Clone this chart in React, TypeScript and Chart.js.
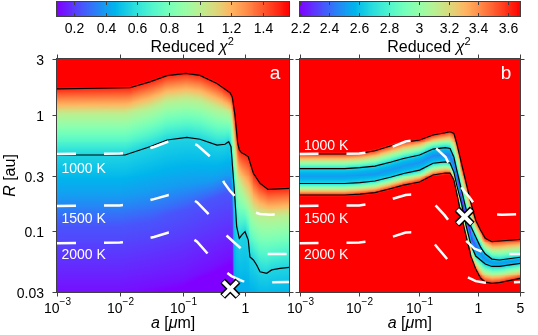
import React, { useEffect, useRef } from 'react';
import { Chart, registerables } from 'chart.js';

Chart.register(...registerables);

const W = 538;
const H = 335;
const FONT = '"Liberation Sans", Arial, Helvetica, sans-serif';
const L10 = Math.log10;

// ---------------- axes ----------------
const A_RANGE = [0.001, 5];
const R_RANGE = [0.03, 3];
const X_TICKS = [0.001, 0.01, 0.1, 1, 5];
const X_LABEL_BASE_A = ['10', '10', '10', '1', ''];
const X_LABEL_BASE_B = ['10', '10', '10', '1', '5'];
const X_LABEL_EXP = ['\u22123', '\u22122', '\u22121', '', ''];
const Y_TICKS = [3, 1, 0.3, 0.1, 0.03];
const Y_LABELS = ['3', '1', '0.3', '0.1', '0.03'];

// ---------------- colour bars ----------------
const CB_A_RANGE = [0.091, 1.568];
const CB_A_TICKS = [0.2, 0.4, 0.6, 0.8, 1, 1.2, 1.4];
const CB_A_LABELS = ['0.2', '0.4', '0.6', '0.8', '1', '1.2', '1.4'];
const CB_B_RANGE = [2.2, 3.68];
const CB_B_TICKS = [2.2, 2.4, 2.6, 2.8, 3, 3.2, 3.4, 3.6];
const CB_B_LABELS = ['2.2', '2.4', '2.6', '2.8', '3', '3.2', '3.4', '3.6'];

// ---------------- panel a: reduced chi2 iso-level curves (a [um] -> R [au]) ----------------
const A_LEVELS = [0.12, 0.25, 0.4, 0.55, 1.0, 1.5];
const A_L012_A = [0.001, 0.01, 0.1, 0.3, 0.6, 0.635, 0.645, 0.66, 5];
const A_L012_R = [0.03, 0.03, 0.038, 0.05, 0.06, 0.05, 0.02, 0.01, 0.01];
const A_L025_A = [0.001, 0.01, 0.03, 0.1, 0.3, 0.5, 0.6, 0.635, 0.65, 0.68, 5];
const A_L025_R = [0.11, 0.11, 0.12, 0.15, 0.19, 0.21, 0.21, 0.14, 0.04, 0.015, 0.015];
const A_L040_A = [0.001, 0.01, 0.03, 0.1, 0.3, 0.5, 0.59, 0.62, 0.635, 0.65, 0.67, 0.7, 5];
const A_L040_R = [0.2, 0.2, 0.22, 0.25, 0.27, 0.3, 0.3, 0.24, 0.17, 0.08, 0.03, 0.02, 0.02];
const A_L055_A = [0.001, 0.0121, 0.03, 0.0565, 0.117, 0.189, 0.353, 0.473, 0.542, 0.59, 0.62, 0.635, 0.683, 0.726, 0.8, 0.873, 0.986, 1.11, 1.18, 1.34, 1.51, 1.71, 2.18, 2.62, 3.56, 5];
const A_L055_R = [0.45, 0.45, 0.53, 0.605, 0.638, 0.614, 0.548, 0.556, 0.585, 0.53, 0.37, 0.315, 0.185, 0.109, 0.0867, 0.0925, 0.0988, 0.0838, 0.06, 0.0565, 0.0512, 0.0448, 0.0434, 0.0464, 0.0479, 0.0489];
const A_L100_A = [0.001, 0.012, 0.03, 0.057, 0.113, 0.19, 0.35, 0.5, 0.59, 0.62, 0.65, 0.7, 0.76, 0.85, 1.0, 1.3, 1.7, 2.5, 5];
const A_L100_R = [1.0, 1.0, 1.14, 1.3, 1.36, 1.31, 1.14, 1.07, 1.0, 0.83, 0.62, 0.4, 0.27, 0.24, 0.2, 0.15, 0.135, 0.13, 0.135];
const A_L150_A = [0.001, 0.0145, 0.03, 0.0565, 0.113, 0.189, 0.353, 0.569, 0.618, 0.682, 0.753, 0.8, 0.87, 0.95, 1.11, 1.34, 1.71, 2.29, 5];
const A_L150_R = [1.66, 1.7, 1.91, 2.16, 2.26, 2.17, 1.85, 1.54, 1.42, 0.99, 0.57, 0.497, 0.47, 0.46, 0.435, 0.313, 0.257, 0.228, 0.233];

// ---------------- panel b: valley of reduced chi2 ----------------
const B_LEVEL_INNER = 2.65;
const B_LEVEL_OUTER = 3.6;
const B_COLS = [0.001, 0.0057, 0.0103, 0.0184, 0.0344, 0.0555, 0.103, 0.173, 0.278, 0.334, 0.387, 0.432, 0.519, 0.623, 0.749, 0.899, 1.08, 1.3, 1.68, 2.25, 5];
const B_OUTER_TOP = [0.459, 0.459, 0.465, 0.489, 0.54, 0.578, 0.605, 0.668, 0.698, 0.713, 0.69, 0.567, 0.382, 0.257, 0.173, 0.124, 0.102, 0.0867, 0.0811, 0.0822, 0.0849];
const B_INNER_TOP = [0.344, 0.344, 0.351, 0.361, 0.392, 0.42, 0.45, 0.506, 0.52, 0.512, 0.43, 0.334, 0.225, 0.152, 0.109, 0.0889, 0.0729, 0.0635, 0.0575, 0.0565, 0.0596];
const B_INNER_BOT = [0.256, 0.256, 0.261, 0.269, 0.291, 0.312, 0.334, 0.382, 0.392, 0.384, 0.321, 0.248, 0.173, 0.11, 0.0758, 0.0611, 0.0565, 0.0521, 0.0497, 0.0497, 0.0529];
const B_OUTER_BOT = [0.204, 0.204, 0.208, 0.214, 0.232, 0.248, 0.264, 0.303, 0.315, 0.315, 0.274, 0.211, 0.133, 0.0895, 0.0603, 0.0472, 0.0395, 0.0365, 0.0356, 0.0361, 0.0393];
const B_CORE_MIN = [2.5, 2.5, 2.5, 2.5, 2.5, 2.5, 2.49, 2.47, 2.45, 2.43, 2.4, 2.35, 2.28, 2.25, 2.3, 2.38, 2.45, 2.48, 2.5, 2.5, 2.5];

// ---------------- isotherms (same in both panels) ----------------
const ISO_NAMES = ['1000 K', '1500 K', '2000 K'];
const T1000_A = [0.001, 0.01, 0.02, 0.035, 0.06, 0.1, 0.17, 0.28, 0.46, 0.57, 0.7, 0.9, 1.2, 1.7, 2.5, 5];
const T1000_R = [0.459, 0.463, 0.482, 0.527, 0.587, 0.611, 0.548, 0.432, 0.259, 0.221, 0.196, 0.164, 0.149, 0.14, 0.138, 0.14];
const T1500_A = [0.001, 0.01, 0.02, 0.035, 0.06, 0.1, 0.17, 0.27, 0.35, 0.49, 0.85, 1.3, 2, 5];
const T1500_R = [0.164, 0.166, 0.174, 0.188, 0.204, 0.208, 0.177, 0.137, 0.115, 0.0925, 0.0708, 0.0648, 0.0635, 0.0635];
const T2000_A = [0.001, 0.01, 0.02, 0.035, 0.06, 0.1, 0.17, 0.27, 0.4, 0.6, 0.9, 1.3, 5];
const T2000_R = [0.0785, 0.0798, 0.083, 0.0889, 0.0972, 0.0982, 0.0811, 0.0611, 0.0482, 0.0411, 0.0372, 0.0361, 0.0365];

// ---------------- best fits ----------------
const BEST_A = [0.575, 0.032];
const BEST_B = [0.585, 0.133];

// ================= helpers =================
function rainbow(t: number): string {
  const x = Math.max(0, Math.min(1, t));
  const r = Math.min(1, Math.abs(2 * x - 0.5));
  const g = Math.max(0, Math.sin(Math.PI * x));
  const b = Math.max(0, Math.cos((Math.PI * x) / 2));
  return `rgb(${Math.round(r * 255)},${Math.round(g * 255)},${Math.round(b * 255)})`;
}

type Curve = { la: number[]; v: number[] };
const logCurve = (a: number[], r: number[]): Curve => ({ la: a.map(L10), v: r.map(L10) });
const linCurve = (a: number[], v: number[]): Curve => ({ la: a.map(L10), v: v.slice() });
function evalCurve(c: Curve, la: number): number {
  const n = c.la.length;
  if (la <= c.la[0]) return c.v[0];
  if (la >= c.la[n - 1]) return c.v[n - 1];
  let i = 0;
  while (la > c.la[i + 1]) i++;
  const t = (la - c.la[i]) / (c.la[i + 1] - c.la[i]);
  return c.v[i] + t * (c.v[i + 1] - c.v[i]);
}
function stackValue(lr: number, pos: number[], vals: number[], below: (d: number) => number, above: (d: number) => number) {
  const n = pos.length;
  if (lr <= pos[0]) return below(pos[0] - lr);
  if (lr >= pos[n - 1]) return above(lr - pos[n - 1]);
  for (let k = 0; k < n - 1; k++) {
    if (lr < pos[k + 1]) {
      const t = (lr - pos[k]) / (pos[k + 1] - pos[k]);
      return vals[k] + t * (vals[k + 1] - vals[k]);
    }
  }
  return vals[n - 1];
}
function monotone(pos: number[]) {
  for (let k = 1; k < pos.length; k++) if (pos[k] < pos[k - 1] + 0.002) pos[k] = pos[k - 1] + 0.002;
  return pos;
}

const A_CURVES = [
  logCurve(A_L012_A, A_L012_R),
  logCurve(A_L025_A, A_L025_R),
  logCurve(A_L040_A, A_L040_R),
  logCurve(A_L055_A, A_L055_R),
  logCurve(A_L100_A, A_L100_R),
  logCurve(A_L150_A, A_L150_R),
];
function fieldA(la: number) {
  const pos = monotone(A_CURVES.map((c) => evalCurve(c, la)));
  const top = A_LEVELS[A_LEVELS.length - 1];
  return (lr: number) =>
    stackValue(lr, pos, A_LEVELS, (d) => Math.max(0.09, A_LEVELS[0] - d * 0.5), (d) => top + d * 5);
}

const B_OT = logCurve(B_COLS, B_OUTER_TOP);
const B_IT = logCurve(B_COLS, B_INNER_TOP);
const B_IB = logCurve(B_COLS, B_INNER_BOT);
const B_OB = logCurve(B_COLS, B_OUTER_BOT);
const B_MIN = linCurve(B_COLS, B_CORE_MIN);
function fieldB(la: number) {
  const ob = evalCurve(B_OB, la);
  const ib = evalCurve(B_IB, la);
  const it = evalCurve(B_IT, la);
  const ot = evalCurve(B_OT, la);
  const pos = monotone([ob, ib, (ib + it) / 2, it, ot]);
  const vals = [B_LEVEL_OUTER, B_LEVEL_INNER, evalCurve(B_MIN, la), B_LEVEL_INNER, B_LEVEL_OUTER];
  return (lr: number) => stackValue(lr, pos, vals, (d) => B_LEVEL_OUTER + d * 5, (d) => B_LEVEL_OUTER + d * 5);
}

type Run = { t: string; f: string; dy?: number };
function drawRuns(ctx: CanvasRenderingContext2D, runs: Run[], x: number, y: number, align: 'left' | 'center' | 'right') {
  let total = 0;
  const ws = runs.map((r) => {
    ctx.font = r.f;
    const w = ctx.measureText(r.t).width;
    total += w;
    return w;
  });
  let cx = align === 'left' ? x : align === 'center' ? x - total / 2 : x - total;
  ctx.textAlign = 'left';
  ctx.textBaseline = 'alphabetic';
  runs.forEach((r, i) => {
    ctx.font = r.f;
    ctx.fillText(r.t, cx, y + (r.dy || 0));
    cx += ws[i];
  });
  return total;
}

const F14 = `14px ${FONT}`;
const F10 = `10px ${FONT}`;
const F16 = `16px ${FONT}`;
const F16I = `italic 16px ${FONT}`;
const FRAME = '#404040';

function heatmapPlugin(field: (la: number) => (lr: number) => number, range: number[]) {
  return {
    id: 'heatmap',
    beforeDatasetsDraw(chart: any) {
      const { ctx, chartArea: ca, scales } = chart;
      const xs = scales.x;
      const ys = scales.y;
      ctx.save();
      ctx.beginPath();
      ctx.rect(ca.left, ca.top, ca.right - ca.left, ca.bottom - ca.top);
      ctx.clip();
      const la0 = L10(A_RANGE[0]);
      const la1 = L10(A_RANGE[1]);
      const lr0 = L10(R_RANGE[0]);
      const lr1 = L10(R_RANGE[1]);
      const NA = 240;
      const NR = 240;
      const da = (la1 - la0) / NA;
      const dr = (lr1 - lr0) / NR;
      const yE: number[] = [];
      for (let j = 0; j <= NR; j++) yE.push(Math.round(ys.getPixelForValue(Math.pow(10, lr0 + j * dr))));
      for (let i = 0; i < NA; i++) {
        const xa = Math.round(xs.getPixelForValue(Math.pow(10, la0 + i * da)));
        const xb = Math.round(xs.getPixelForValue(Math.pow(10, la0 + (i + 1) * da)));
        if (xb <= xa) continue;
        const f = field(la0 + (i + 0.5) * da);
        for (let j = 0; j < NR; j++) {
          const ya = yE[j];
          const yb = yE[j + 1];
          if (ya <= yb) continue;
          const v = f(lr0 + (j + 0.5) * dr);
          ctx.fillStyle = rainbow((v - range[0]) / (range[1] - range[0]));
          ctx.fillRect(xa, yb, xb - xa, ya - yb);
        }
      }
      ctx.restore();
      ctx.save();
      ctx.strokeStyle = FRAME;
      ctx.lineWidth = 1;
      const x0 = Math.round(ca.left) - 0.5;
      const x1 = Math.round(ca.right) + 0.5;
      const y0 = Math.round(ca.top) - 0.5;
      const y1 = Math.round(ca.bottom) + 0.5;
      ctx.strokeRect(x0, y0, x1 - x0, y1 - y0);
      ctx.restore();
    },
  };
}

type PanelCfg = {
  xBase: string[];
  cbRange: number[];
  cbTicks: number[];
  cbLabels: string[];
  yLabels: boolean;
  letter: string;
  isoBaselines: number[];
};

function decorPlugin(cfg: PanelCfg) {
  return {
    id: 'decor',
    afterDraw(chart: any) {
      const { ctx, chartArea: ca, scales } = chart;
      const xs = scales.x;
      const ys = scales.y;
      const cbs = scales.cb;
      ctx.save();
      // ---- colour bar ----
      const top = 2;
      const bot = 16;
      const N = 240;
      const span = cfg.cbRange[1] - cfg.cbRange[0];
      for (let i = 0; i < N; i++) {
        const p0 = Math.round(cbs.getPixelForValue(cfg.cbRange[0] + (i / N) * span));
        const p1 = Math.round(cbs.getPixelForValue(cfg.cbRange[0] + ((i + 1) / N) * span));
        if (p1 <= p0) continue;
        ctx.fillStyle = rainbow((i + 0.5) / N);
        ctx.fillRect(p0, top, p1 - p0, bot - top);
      }
      ctx.strokeStyle = FRAME;
      ctx.lineWidth = 1;
      const cl = Math.round(ca.left) - 0.5;
      const cr = Math.round(ca.right) + 0.5;
      ctx.strokeRect(cl, top - 0.5, cr - cl, bot - top + 1);
      ctx.fillStyle = '#000';
      cfg.cbTicks.forEach((v, i) => {
        const px = Math.round(cbs.getPixelForValue(v)) + 0.5;
        ctx.beginPath();
        ctx.moveTo(px, top);
        ctx.lineTo(px, top + 3);
        ctx.moveTo(px, bot);
        ctx.lineTo(px, bot - 3);
        ctx.stroke();
        drawRuns(ctx, [{ t: cfg.cbLabels[i], f: F14 }], px, 32.5, 'center');
      });
      const cbc = (ca.left + ca.right) / 2 + 19;
      drawRuns(
        ctx,
        [
          { t: 'Reduced ', f: F16 },
          { t: '\u03c7', f: F16I },
          { t: '2', f: `11px ${FONT}`, dy: -7 },
        ],
        cbc,
        52.3,
        'center'
      );

      // ---- panel ticks ----
      const L = Math.round(ca.left) - 0.5;
      const R = Math.round(ca.right) + 0.5;
      const T = Math.round(ca.top) - 0.5;
      const B = Math.round(ca.bottom) + 0.5;
      ctx.strokeStyle = FRAME;
      X_TICKS.forEach((v, i) => {
        const px = Math.round(xs.getPixelForValue(v)) + 0.5;
        ctx.beginPath();
        ctx.moveTo(px, B);
        ctx.lineTo(px, B + 4);
        ctx.moveTo(px, T);
        ctx.lineTo(px, T - 4);
        ctx.stroke();
        const base = cfg.xBase[i];
        if (base) {
          const runs: Run[] = [{ t: base, f: F14 }];
          if (X_LABEL_EXP[i]) runs.push({ t: X_LABEL_EXP[i], f: F10, dy: -8 });
          ctx.fillStyle = '#000';
          drawRuns(ctx, runs, px, 313.3, 'center');
        }
      });
      Y_TICKS.forEach((v, i) => {
        const py = Math.round(ys.getPixelForValue(v)) + 0.5;
        ctx.beginPath();
        ctx.moveTo(L, py);
        ctx.lineTo(L - 4, py);
        ctx.moveTo(R, py);
        ctx.lineTo(R + 4, py);
        ctx.stroke();
        if (cfg.yLabels) {
          ctx.fillStyle = '#000';
          drawRuns(ctx, [{ t: Y_LABELS[i], f: F14 }], 44, py + 5, 'right');
        }
      });

      // ---- axis titles ----
      ctx.fillStyle = '#000';
      drawRuns(
        ctx,
        [
          { t: 'a', f: F16I },
          { t: ' [', f: F16 },
          { t: '\u03bc', f: F16I },
          { t: 'm]', f: F16 },
        ],
        (ca.left + ca.right) / 2,
        328,
        'center'
      );
      if (cfg.yLabels) {
        ctx.save();
        ctx.translate(15, (ca.top + ca.bottom) / 2);
        ctx.rotate(-Math.PI / 2);
        drawRuns(
          ctx,
          [
            { t: 'R', f: F16I },
            { t: ' [au]', f: F16 },
          ],
          0,
          0,
          'center'
        );
        ctx.restore();
      }

      // ---- in-panel labels ----
      ctx.fillStyle = '#fff';
      ISO_NAMES.forEach((name, i) => {
        drawRuns(ctx, [{ t: name, f: F14 }], ca.left + 4.5, cfg.isoBaselines[i], 'left');
      });
      drawRuns(ctx, [{ t: cfg.letter, f: `19px ${FONT}` }], ca.right - 9, 79.3, 'right');
      ctx.restore();
    },
  };
}

const pts = (a: number[], r: number[]) => a.map((v, i) => ({ x: v, y: r[i] }));

function lineDs(data: any[], color: string, width: number, dash: number[], order: number) {
  return {
    data,
    showLine: true,
    borderColor: color,
    backgroundColor: color,
    borderWidth: width,
    borderDash: dash,
    borderCapStyle: 'butt',
    pointRadius: 0,
    pointHoverRadius: 0,
    tension: 0,
    order,
    xAxisID: 'x',
    yAxisID: 'y',
  };
}

function markerDs(pos: number[], color: string, radius: number, width: number, order: number) {
  return {
    data: [{ x: pos[0], y: pos[1] }],
    showLine: false,
    pointStyle: 'crossRot',
    pointRadius: radius,
    pointHoverRadius: radius,
    pointBorderColor: color,
    pointBackgroundColor: color,
    pointBorderWidth: width,
    borderColor: color,
    clip: false,
    order,
    xAxisID: 'x',
    yAxisID: 'y',
  };
}

function isoDatasets() {
  return [
    lineDs(pts(T1000_A, T1000_R), '#ffffff', 2.5, [19, 28], 2),
    lineDs(pts(T1500_A, T1500_R), '#ffffff', 2.5, [19, 28], 2),
    lineDs(pts(T2000_A, T2000_R), '#ffffff', 2.5, [19, 28], 2),
  ];
}

function makeConfig(panel: 'a' | 'b'): any {
  const isA = panel === 'a';
  const contours = isA
    ? [lineDs(pts(A_L150_A, A_L150_R), '#000', 1.2, [], 3), lineDs(pts(A_L055_A, A_L055_R), '#000', 1.2, [], 3)]
    : [
        lineDs(pts(B_COLS, B_OUTER_TOP), '#000', 1.2, [], 3),
        lineDs(pts(B_COLS, B_INNER_TOP), '#000', 1.2, [], 3),
        lineDs(pts(B_COLS, B_INNER_BOT), '#000', 1.2, [], 3),
        lineDs(pts(B_COLS, B_OUTER_BOT), '#000', 1.2, [], 3),
      ];
  const best = isA ? BEST_A : BEST_B;
  const cbRange = isA ? CB_A_RANGE : CB_B_RANGE;
  const padding = isA
    ? { left: 57, right: W - 289.3, top: 59, bottom: H - 292 }
    : { left: 299.5, right: W - 532, top: 59, bottom: H - 292 };
  return {
    type: 'scatter',
    data: {
      datasets: [markerDs(best, '#ffffff', 10, 4, 0), markerDs(best, '#000000', 10.8, 7, 1), ...isoDatasets(), ...contours],
    },
    options: {
      responsive: false,
      animation: false,
      devicePixelRatio: 1,
      events: [],
      layout: { padding },
      scales: {
        x: { type: 'logarithmic', min: A_RANGE[0], max: A_RANGE[1], display: false },
        y: { type: 'logarithmic', min: R_RANGE[0], max: R_RANGE[1], display: false },
        cb: { type: 'linear', axis: 'x', position: 'top', min: cbRange[0], max: cbRange[1], display: false },
      },
      plugins: { legend: { display: false }, tooltip: { enabled: false } },
    },
    plugins: [
      heatmapPlugin(isA ? fieldA : fieldB, cbRange),
      decorPlugin({
        xBase: isA ? X_LABEL_BASE_A : X_LABEL_BASE_B,
        cbRange,
        cbTicks: isA ? CB_A_TICKS : CB_B_TICKS,
        cbLabels: isA ? CB_A_LABELS : CB_B_LABELS,
        yLabels: isA,
        letter: panel,
        isoBaselines: isA ? [173.3, 222.7, 259.3] : [150, 222.7, 259.3],
      }),
    ],
  };
}

export default function App() {
  const refA = useRef<HTMLCanvasElement>(null);
  const refB = useRef<HTMLCanvasElement>(null);
  useEffect(() => {
    const ca = new Chart(refA.current as HTMLCanvasElement, makeConfig('a'));
    const cb = new Chart(refB.current as HTMLCanvasElement, makeConfig('b'));
    return () => {
      ca.destroy();
      cb.destroy();
    };
  }, []);
  const cs: React.CSSProperties = { position: 'absolute', left: 0, top: 0, width: W, height: H };
  return (
    <div style={{ position: 'fixed', left: 0, top: 0, width: W, height: H, background: '#fff', overflow: 'hidden' }}>
      <canvas ref={refA} width={W} height={H} style={cs} />
      <canvas ref={refB} width={W} height={H} style={cs} />
    </div>
  );
}
